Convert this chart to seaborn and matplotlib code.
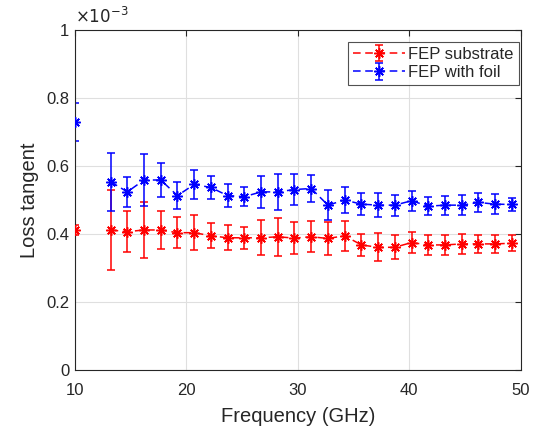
import numpy as np
import pandas as pd
import seaborn as sns
import matplotlib.pyplot as plt
from matplotlib.ticker import FuncFormatter
from matplotlib.legend_handler import HandlerTuple

# frequency points (GHz); the 10 GHz point is a separate, unconnected measurement
freq = [10, 13.2, 14.7, 16.2, 17.7, 19.2, 20.7, 22.2, 23.7, 25.2, 26.7, 28.2, 29.7,
        31.2, 32.7, 34.2, 35.7, 37.2, 38.7, 40.2, 41.7, 43.2, 44.7, 46.2, 47.7, 49.2]

# loss tangent, in units of 1e-3
substrate = [0.412, 0.412, 0.407, 0.412, 0.412, 0.404, 0.404, 0.395, 0.389, 0.389, 0.389, 0.392, 0.388,
             0.392, 0.387, 0.395, 0.368, 0.361, 0.361, 0.375, 0.368, 0.368, 0.371, 0.371, 0.371, 0.373]
substrate_err = [0.014, 0.118, 0.060, 0.082, 0.055, 0.046, 0.051, 0.037, 0.037, 0.032, 0.052, 0.056, 0.047,
                 0.046, 0.048, 0.044, 0.033, 0.041, 0.035, 0.030, 0.029, 0.029, 0.030, 0.027, 0.027, 0.024]
foil = [0.730, 0.554, 0.524, 0.559, 0.559, 0.513, 0.546, 0.537, 0.513, 0.510, 0.524, 0.524, 0.531,
        0.534, 0.485, 0.500, 0.488, 0.485, 0.485, 0.498, 0.482, 0.485, 0.485, 0.493, 0.488, 0.487]
foil_err = [0.057, 0.085, 0.045, 0.076, 0.051, 0.040, 0.042, 0.034, 0.034, 0.028, 0.046, 0.052, 0.045,
            0.041, 0.045, 0.039, 0.032, 0.035, 0.031, 0.030, 0.027, 0.028, 0.029, 0.027, 0.030, 0.020]

sns.set_style("white")
plt.rcParams['font.family'] = ['Liberation Sans', 'DejaVu Sans']
txt = '#262626'

fig = plt.figure(figsize=(5.43, 4.30), dpi=100)
ax = fig.add_axes([0.138, 0.1395, 0.821, 0.7905])

handles = []
for vals, errs, col, name in [(substrate, substrate_err, '#ff0000', 'FEP substrate'),
                              (foil, foil_err, '#0000ff', 'FEP with foil')]:
    df = pd.DataFrame({'freq': freq, 'val': vals})
    df['seg'] = [0] + [1] * (len(freq) - 1)
    for seg, part in df.groupby('seg'):
        sns.lineplot(data=part, x='freq', y='val', ax=ax, color=col, lw=1.1,
                     marker=(8, 2, 0), markersize=7.5, markeredgewidth=1.1,
                     markeredgecolor=col, legend=False, zorder=3)
        ax.lines[-1].set_linestyle((0, (5, 3)))
    line = ax.lines[-1]
    eb = ax.errorbar(freq, vals, yerr=errs, fmt='none', ecolor=col, elinewidth=1.1,
                     capsize=3.2, capthick=1.1, zorder=2)
    handles.append(((line, eb), name))

ax.set_xlim(10, 50)
ax.set_ylim(0, 1)
ax.set_xticks([10, 20, 30, 40, 50])
ax.set_yticks([0, 0.2, 0.4, 0.6, 0.8, 1.0])
ax.yaxis.set_major_formatter(FuncFormatter(lambda v, p: '%g' % round(v, 2)))
ax.grid(True, color='#dfdfdf', lw=0.8)
ax.set_axisbelow(True)
ax.tick_params(direction='in', top=True, right=True, length=4, width=0.8,
               labelsize=12, colors=txt, labelcolor=txt)
ax.tick_params(axis='x', pad=9)
ax.tick_params(axis='y', pad=4)
for s in ax.spines.values():
    s.set_color(txt)
    s.set_linewidth(0.8)

ax.set_xlabel('Frequency (GHz)', fontsize=14.5, color=txt, labelpad=7)
ax.set_ylabel('Loss tangent', fontsize=14.5, color=txt, labelpad=5)
ax.text(0.0, 1.012, r'$\times10^{-3}$', transform=ax.transAxes, fontsize=12,
        color=txt, ha='left', va='bottom')

leg = ax.legend([h for h, n in handles], [n for h, n in handles],
                handler_map={tuple: HandlerTuple(ndivide=1)},
                loc='upper right', bbox_to_anchor=(0.9955, 0.965), borderaxespad=0,
                fontsize=12, frameon=True, fancybox=False,
                handlelength=3.1, handletextpad=0.2,
                borderpad=0.3, labelspacing=0.2)
leg.get_frame().set_edgecolor(txt)
leg.get_frame().set_linewidth(0.8)

fig.savefig('out.png', dpi=100)
